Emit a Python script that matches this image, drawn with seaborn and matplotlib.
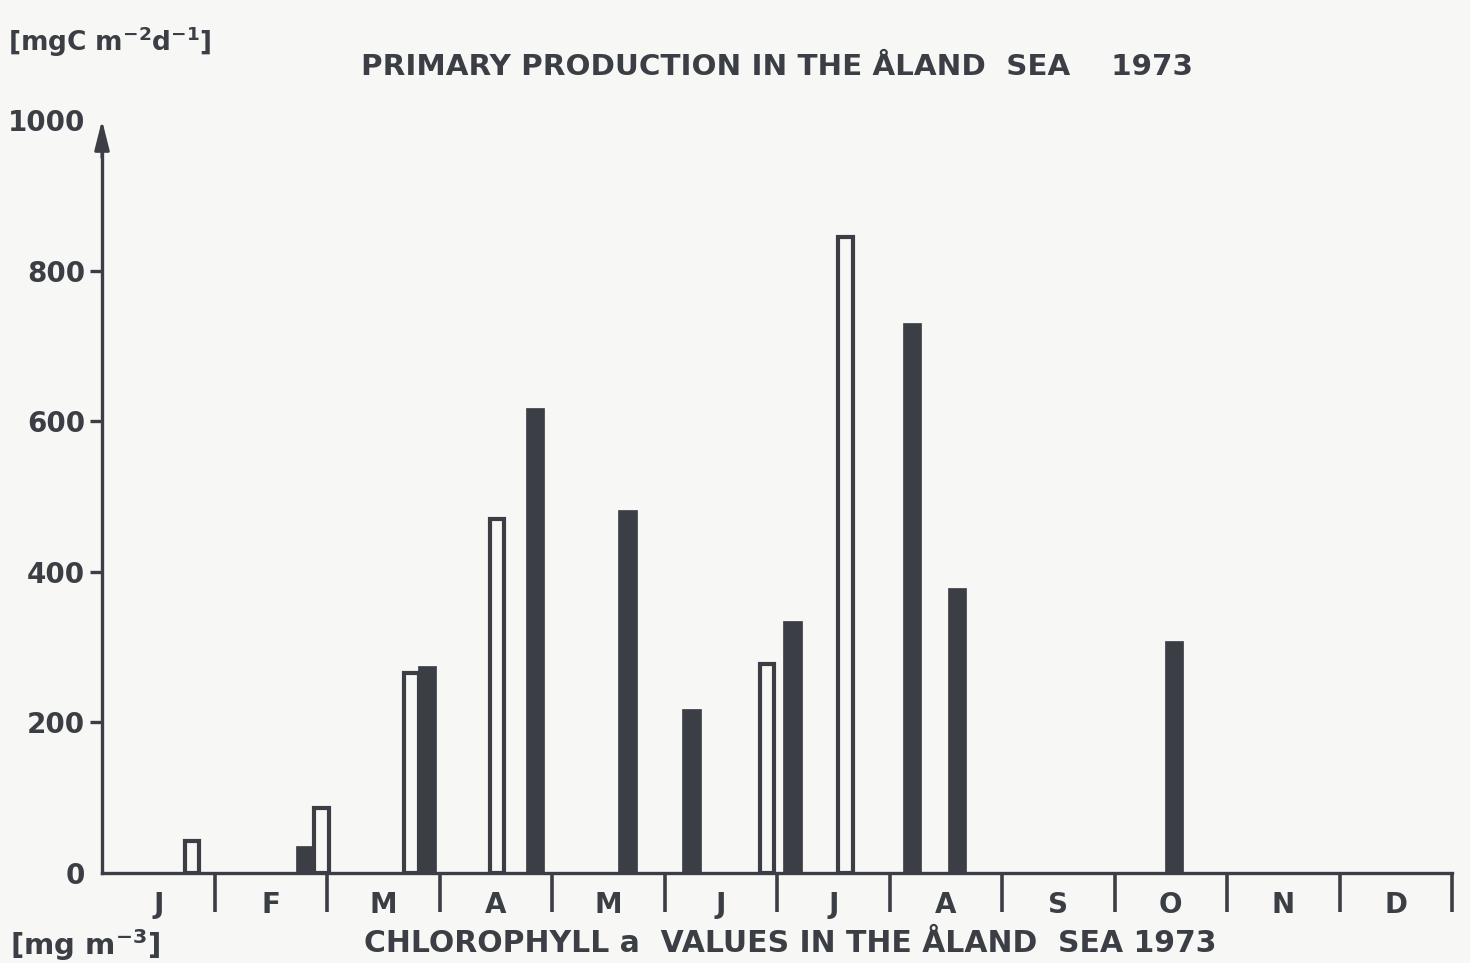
import numpy as np
import matplotlib
matplotlib.use("Agg")
import matplotlib.pyplot as plt
import seaborn as sns

# Month initials along the time axis and the production scale
months = ["J", "F", "M", "A", "M", "J", "J", "A", "S", "O", "N", "D"]
y_ticks = [0, 200, 400, 600, 800, 1000]

# Sampling dates (fractional months from 1 January) and daily primary production
open_pos = [0.80, 1.95, 2.75, 3.51, 5.91, 6.61]
open_val = [42, 86, 266, 470, 278, 845]
filled_pos = [1.81, 2.89, 3.85, 4.67, 5.24, 6.14, 7.20, 7.60, 9.53]
filled_val = [36, 275, 617, 482, 218, 334, 730, 379, 308]

title = "PRIMARY PRODUCTION IN THE ÅLAND  SEA    1973"
caption = "CHLOROPHYLL a  VALUES IN THE ÅLAND  SEA 1973"
unit_top = r"[mgC m$^{-2}$d$^{-1}$]"
unit_bottom = r"[mg m$^{-3}$]"

ink = "#3b3e44"
paper = "#f7f7f5"

sns.set_theme(style="white")
plt.rcParams["font.family"] = ["DejaVu Sans"]
plt.rcParams["font.weight"] = "bold"
plt.rcParams["mathtext.default"] = "bf"

W, H = 1470, 963
fig = plt.figure(figsize=(W / 100, H / 100), dpi=100, facecolor=paper)
ax = fig.add_axes([102 / W, 1 - 873 / H, 1350 / W, (873 - 120) / H])
ax.set_facecolor(paper)

bar_w = 0.165


def width_param(pos, w):
    # seaborn scales bar width by the smallest gap between positions
    return w / np.min(np.diff(np.unique(pos)))


sns.barplot(x=open_pos, y=open_val, native_scale=True, orient="x",
            width=width_param(open_pos, bar_w - 0.035), color=paper,
            edgecolor=ink, linewidth=3.0, saturation=1, errorbar=None, ax=ax)
sns.barplot(x=filled_pos, y=filled_val, native_scale=True, orient="x",
            width=width_param(filled_pos, bar_w), color=ink,
            edgecolor=ink, linewidth=0.5, saturation=1, errorbar=None, ax=ax)

ax.set_xlim(0, 12)
ax.set_ylim(0, 1000)
sns.despine(ax=ax)
for side in ("left", "bottom"):
    ax.spines[side].set_color(ink)
    ax.spines[side].set_linewidth(2.4)
ax.spines["left"].set_bounds(0, 960)
ax.annotate("", xy=(0, 1000), xytext=(0, 950),
            arrowprops=dict(arrowstyle="-|>,head_length=0.6,head_width=0.15",
                            color=ink, lw=2.2, mutation_scale=30, shrinkA=0, shrinkB=0),
            annotation_clip=False)

# Month labels centred, separators between months
ax.set_xticks(np.arange(12) + 0.5)
ax.set_xticklabels(months)
ax.set_xticks(np.arange(1, 13), minor=True)
ax.tick_params(axis="x", which="major", bottom=True, length=0, pad=13,
               labelsize=20, labelcolor=ink)
ax.tick_params(axis="x", which="minor", bottom=True, length=28, width=2.6,
               color=ink, direction="out")

ax.set_yticks(y_ticks)
ax.set_yticklabels([str(v) for v in y_ticks])
ax.tick_params(axis="y", length=9, width=2.4, color=ink, pad=3, labelsize=20,
               labelcolor=ink, left=True)
yt = ax.yaxis.get_major_ticks()
yt[0].tick1line.set_visible(False)
yt[-1].tick1line.set_visible(False)
ax.set_xlabel("")
ax.set_ylabel("")

fig.text(777 / W, 1 - 67 / H, title, ha="center", va="center", fontsize=21.2, color=ink)
fig.text(790 / W, 1 - 943 / H, caption, ha="center", va="center", fontsize=21.5, color=ink)
fig.text(8 / W, 1 - 42 / H, unit_top, ha="left", va="center", fontsize=19, color=ink)
fig.text(10 / W, 1 - 945 / H, unit_bottom, ha="left", va="center", fontsize=21, color=ink)

fig.savefig("out.png", dpi=100, facecolor=paper)
